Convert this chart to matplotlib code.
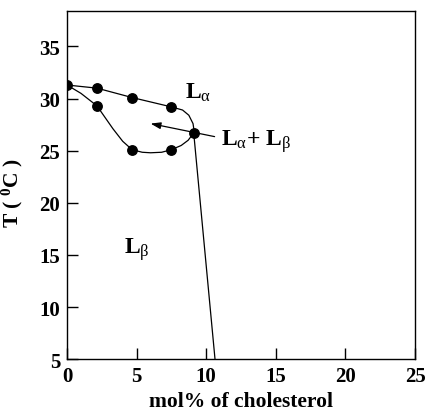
import matplotlib
matplotlib.use('Agg')
import matplotlib.pyplot as plt

plt.rcParams['font.family'] = ['Liberation Serif', 'DejaVu Serif']
plt.rcParams['mathtext.fontset'] = 'custom'
plt.rcParams['mathtext.rm'] = 'Liberation Serif'
plt.rcParams['mathtext.default'] = 'regular'

# measured points
pts_x = [0, 2.15, 2.15, 4.67, 4.67, 7.5, 7.5, 9.1]
pts_y = [31.3, 31.0, 29.3, 30.1, 25.1, 29.2, 25.1, 26.7]

# upper (liquidus) boundary
upper_x = [0, 2.15, 4.67, 7.5, 8.3, 8.75, 9.05, 9.15]
upper_y = [31.3, 31.0, 30.1, 29.2, 28.9, 28.4, 27.6, 26.7]

# lower boundary
lower_x = [0, 1.0, 2.15, 3.3, 4.0, 4.67, 5.4, 6.0, 6.8, 7.5, 8.2, 8.7, 9.1]
lower_y = [31.3, 30.5, 29.3, 27.1, 25.9, 25.1, 24.85, 24.8, 24.85, 25.1, 25.5, 26.0, 26.7]

# solidus line
sol_x = [9.1, 10.63]
sol_y = [26.7, 5]

fig = plt.figure(figsize=(4.27, 4.14), dpi=100)
ax = fig.add_axes([0.157, 0.130, 0.815, 0.841])

ax.plot(upper_x, upper_y, 'k-', lw=0.9)
ax.plot(lower_x, lower_y, 'k-', lw=0.9)
ax.plot(sol_x, sol_y, 'k-', lw=0.9)
ax.plot(pts_x, pts_y, 'ko', ms=6.8)

ax.annotate('', xy=(6.0, 27.6), xytext=(10.6, 26.35),
            arrowprops=dict(arrowstyle='-|>,head_length=0.6,head_width=0.2',
                            color='k', lw=0.9, mutation_scale=10,
                            shrinkA=0, shrinkB=0))

fs = 17
ax.text(8.45, 30.6, r'L$_{\mathrm{\alpha}}$', fontsize=fs, fontweight='bold', va='center')
ax.text(11.05, 26.0, r'L$_{\mathrm{\alpha}}$+ L$_{\mathrm{\beta}}$', fontsize=fs,
        fontweight='bold', va='center')
ax.text(4.1, 15.6, r'L$_{\mathrm{\beta}}$', fontsize=fs, fontweight='bold', va='center')

ax.set_xlim(0, 25)
ax.set_ylim(5, 38.4)
ax.set_xticks([0, 5, 10, 15, 20, 25])
ax.set_yticks([5, 10, 15, 20, 25, 30, 35])
ax.tick_params(direction='in', length=8, width=1, labelsize=15, pad=5)
for lab in ax.get_xticklabels() + ax.get_yticklabels():
    lab.set_fontweight('bold')
for s in ax.spines.values():
    s.set_linewidth(1)

ax.set_xlabel('mol% of cholesterol', fontsize=15.5, fontweight='bold')
ax.xaxis.set_label_coords(0.5, -0.092)
ax.set_ylabel(r'T ( $^{0}$C )', fontsize=15.5, fontweight='bold')
ax.yaxis.set_label_coords(-0.12, 0.48)

fig.savefig('out.png', dpi=100)
